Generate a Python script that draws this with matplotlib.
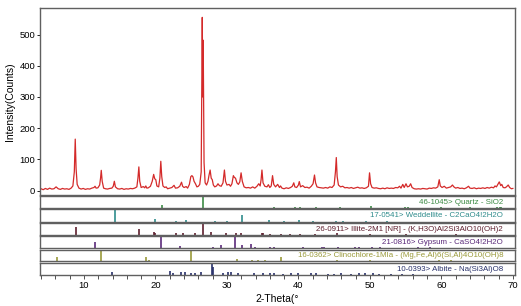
import matplotlib
matplotlib.use("Agg")
import matplotlib.pyplot as plt

plt.rcParams['font.family'] = ['Liberation Sans', 'DejaVu Sans']

# Patron de difraccion (2-theta, cuentas)
two_theta = [
    4.0, 4.3, 4.6, 4.9, 5.2, 5.5, 5.8, 6.1, 6.4, 6.7, 7.0, 7.3, 7.6, 7.9, 8.2, 8.45, 8.65, 8.78, 8.9, 9.05,
    9.3, 9.6, 9.9, 10.2, 10.5, 10.8, 11.1, 11.4, 11.55, 11.7, 11.95, 12.2, 12.32, 12.42, 12.55, 12.75, 13.0, 13.3, 13.6, 13.9,
    14.1, 14.25, 14.4, 14.7, 15.0, 15.3, 15.6, 15.9, 16.2, 16.5, 16.8, 17.1, 17.4, 17.55, 17.68, 17.8, 18.0, 18.3, 18.5, 18.65,
    18.8, 19.0, 19.3, 19.55, 19.75, 19.9, 20.05, 20.2, 20.45, 20.62, 20.75, 20.88, 21.05, 21.3, 21.5, 21.7, 22.0, 22.3, 22.6, 22.8,
    23.1, 23.4, 23.65, 23.8, 24.0, 24.3, 24.5, 24.75, 24.95, 25.1, 25.25, 25.4, 25.6, 25.8, 26.0, 26.2, 26.4, 26.55, 26.62, 26.68,
    26.8, 26.95, 27.15, 27.35, 27.5, 27.65, 27.8, 27.95, 28.1, 28.3, 28.55, 28.75, 28.95, 29.2, 29.45, 29.65, 29.8, 30.0, 30.3, 30.5,
    30.7, 30.9, 31.05, 31.2, 31.4, 31.6, 31.8, 31.98, 32.15, 32.4, 32.7, 33.0, 33.3, 33.6, 33.9, 34.2, 34.45, 34.65, 34.78, 34.9,
    35.05, 35.3, 35.6, 35.8, 36.0, 36.2, 36.38, 36.55, 36.8, 37.1, 37.35, 37.5, 37.7, 38.0, 38.3, 38.6, 38.9, 39.15, 39.35, 39.5,
    39.75, 40.0, 40.12, 40.3, 40.6, 40.9, 41.2, 41.5, 41.8, 42.05, 42.25, 42.4, 42.6, 42.9, 43.2, 43.5, 43.8, 44.1, 44.4, 44.7,
    45.0, 45.18, 45.3, 45.42, 45.6, 45.9, 46.2, 46.5, 46.8, 47.1, 47.4, 47.7, 48.0, 48.3, 48.6, 48.9, 49.2, 49.5, 49.8, 49.95,
    50.1, 50.3, 50.6, 50.9, 51.2, 51.5, 51.8, 52.1, 52.4, 52.7, 53.0, 53.3, 53.6, 53.9, 54.15, 54.35, 54.6, 54.8, 55.05, 55.25,
    55.5, 55.7, 55.9, 56.2, 56.5, 56.8, 57.1, 57.4, 57.7, 58.0, 58.3, 58.6, 58.9, 59.2, 59.5, 59.7, 59.85, 60.1, 60.4, 60.7,
    61.0, 61.3, 61.55, 61.75, 62.0, 62.3, 62.6, 62.9, 63.2, 63.5, 63.8, 64.0, 64.3, 64.6, 64.9, 65.2, 65.5, 65.8, 66.1, 66.4,
    66.7, 67.0, 67.3, 67.5, 67.7, 67.95, 68.1, 68.3, 68.45, 68.65, 68.9, 69.1, 69.35, 69.55, 69.8, 70.0,
]
counts = [
    6, 3, 7, 4, 8, 5, 6, 12, 6, 4, 7, 5, 6, 4, 8, 15, 60, 165, 70, 20,
    8, 5, 7, 4, 6, 5, 8, 10, 14, 8, 9, 18, 40, 65, 30, 8, 6, 5, 7, 8,
    14, 30, 12, 6, 5, 7, 4, 6, 5, 7, 6, 8, 12, 40, 76, 30, 10, 13, 9, 15,
    8, 9, 14, 30, 52, 38, 35, 15, 12, 40, 94, 45, 15, 10, 12, 6, 8, 10, 17, 8,
    9, 14, 27, 14, 10, 13, 8, 20, 45, 48, 44, 30, 22, 12, 14, 20, 60, 555, 300, 482,
    90, 25, 18, 30, 50, 66, 40, 35, 18, 12, 15, 22, 16, 14, 25, 66, 30, 18, 20, 14,
    22, 48, 42, 40, 25, 20, 28, 57, 30, 12, 9, 10, 8, 12, 8, 14, 22, 15, 35, 66,
    25, 14, 12, 19, 10, 15, 48, 20, 12, 20, 10, 15, 8, 6, 9, 7, 10, 14, 25, 12,
    10, 18, 29, 12, 16, 10, 11, 8, 14, 22, 50, 25, 12, 10, 9, 8, 10, 8, 12, 10,
    18, 60, 106, 45, 18, 12, 14, 9, 10, 8, 10, 7, 9, 11, 8, 9, 7, 9, 14, 57,
    22, 10, 8, 9, 7, 6, 8, 6, 9, 7, 8, 7, 10, 9, 14, 8, 20, 10, 22, 12,
    14, 22, 10, 6, 5, 6, 5, 7, 6, 5, 8, 7, 9, 8, 12, 35, 15, 10, 14, 8,
    10, 12, 18, 12, 8, 10, 7, 8, 6, 9, 14, 8, 7, 9, 6, 8, 7, 9, 7, 10,
    8, 11, 9, 15, 12, 22, 28, 16, 20, 10, 9, 12, 18, 10, 6, 7,
]

# Fichas PDF de referencia (posicion 2-theta, intensidad relativa)
quartz_pos = [20.86, 26.64, 36.54, 39.47, 40.29, 42.45, 45.79, 50.14, 54.87, 55.33, 59.96, 64.04, 67.74, 68.14, 68.31]
quartz_int = [22, 100, 8, 8, 4, 6, 4, 14, 4, 2, 9, 2, 6, 7, 5]

weddellite_pos = [14.3, 20.0, 22.9, 24.3, 28.4, 30.0, 32.1, 35.9, 38.0, 40.1, 42.0, 45.2, 46.3, 49.4, 52.4]
weddellite_int = [100, 25, 8, 12, 6, 6, 55, 10, 8, 10, 6, 8, 6, 5, 4]

illite_pos = [8.84, 17.7, 19.8, 20.0, 22.9, 23.8, 25.5, 26.6, 27.8, 29.9, 31.2, 32.0, 34.9, 35.0, 36.0, 37.6, 38.8, 40.2, 42.3, 45.4, 50.0, 55.0, 62.0]
illite_int = [75, 55, 20, 15, 10, 12, 18, 100, 20, 15, 12, 18, 15, 10, 8, 8, 8, 6, 6, 12, 8, 6, 6]

gypsum_pos = [11.59, 20.72, 23.39, 28.11, 29.11, 31.10, 32.09, 33.35, 33.97, 35.97, 36.56, 40.63, 43.33, 43.62, 45.47, 47.89, 48.43, 50.28, 51.35, 56.71, 58.36]
gypsum_int = [55, 100, 15, 5, 25, 100, 25, 40, 10, 6, 12, 10, 12, 8, 8, 10, 8, 8, 8, 8, 6]

clino_pos = [6.2, 12.4, 18.7, 19.1, 25.0, 31.4, 33.5, 34.4, 35.3, 37.6, 45.4, 50.0, 59.7, 61.3]
clino_int = [40, 100, 40, 10, 100, 15, 12, 8, 8, 35, 10, 8, 10, 8]

albite_pos = [13.9, 22.0, 22.5, 23.6, 24.2, 25.0, 25.6, 26.4, 27.9, 28.1, 29.4, 30.1, 30.5, 31.5, 33.8, 35.0, 36.0, 36.6, 37.8, 39.0, 39.9, 41.7, 42.5, 44.2, 45.0, 46.0, 47.4, 48.5, 49.3, 50.5, 51.3, 53.0, 54.5, 56.0]
albite_int = [20, 30, 10, 25, 20, 15, 10, 20, 100, 70, 15, 20, 20, 15, 12, 15, 10, 12, 8, 10, 10, 15, 12, 8, 8, 10, 8, 10, 10, 10, 8, 8, 8, 8]

fases = [
    ("46-1045> Quartz - SiO2", quartz_pos, quartz_int, '#3d8b45'),
    ("17-0541> Weddellite - C2CaO4!2H2O", weddellite_pos, weddellite_int, '#2f8c8c'),
    ("26-0911> Illite-2M1 [NR] - (K,H3O)Al2Si3AlO10(OH)2", illite_pos, illite_int, '#5e1f2e'),
    ("21-0816> Gypsum - CaSO4!2H2O", gypsum_pos, gypsum_int, '#5b2a7a'),
    ("16-0362> Clinochlore-1MIa - (Mg,Fe,Al)6(Si,Al)4O10(OH)8", clino_pos, clino_int, '#9a9a3a'),
    ("10-0393> Albite - Na(Si3Al)O8", albite_pos, albite_int, '#27306a'),
]

W, H = 521, 306
fig = plt.figure(figsize=(W / 100, H / 100), dpi=100)
xlim = (3.85, 70.3)
borde = '#606060'

# Grafico principal
ax = fig.add_axes([40 / W, 1 - 195 / H, 475 / W, 187 / H])
ax.plot(two_theta, counts, color='#d42a2a', lw=0.9)
ax.set_xlim(*xlim)
ax.set_ylim(-14, 585)
ax.set_yticks([0, 100, 200, 300, 400, 500])
ax.tick_params(axis='y', labelsize=6.8, length=2, width=0.6, pad=1.5)
ax.tick_params(axis='x', bottom=False, labelbottom=False)
ax.set_ylabel('Intensity(Counts)', fontsize=7.5, labelpad=3)
for s in ax.spines.values():
    s.set_color(borde)
    s.set_linewidth(1.0)

# Paneles de fichas
limites = [(196, 207.5), (209, 221.5), (223, 234.5), (236, 248), (249.5, 261), (262.5, 274.5)]
for i, (nombre, pos, inten, col) in enumerate(fases):
    top, bot = limites[i]
    a = fig.add_axes([40 / W, 1 - bot / H, 475 / W, (bot - top) / H])
    a.vlines(pos, 0, inten, color=col, lw=1.2)
    a.set_xlim(*xlim)
    a.set_ylim(0, 112)
    a.set_yticks([])
    a.text(0.975, 0.45, nombre, transform=a.transAxes, ha='right', va='center',
           fontsize=5.7, color=col)
    for s in a.spines.values():
        s.set_color(borde)
        s.set_linewidth(1.0)
    if i < len(fases) - 1:
        a.set_xticks([])
    else:
        a.set_xticks([10, 20, 30, 40, 50, 60, 70])
        a.set_xticks(range(4, 71, 2), minor=True)
        a.tick_params(axis='x', which='both', labelsize=6.8, length=3, width=0.6, pad=1.5, color='#333333')
        a.set_xlabel('2-Theta(°', fontsize=7.5, labelpad=3)

fig.savefig('out.png', dpi=100)
